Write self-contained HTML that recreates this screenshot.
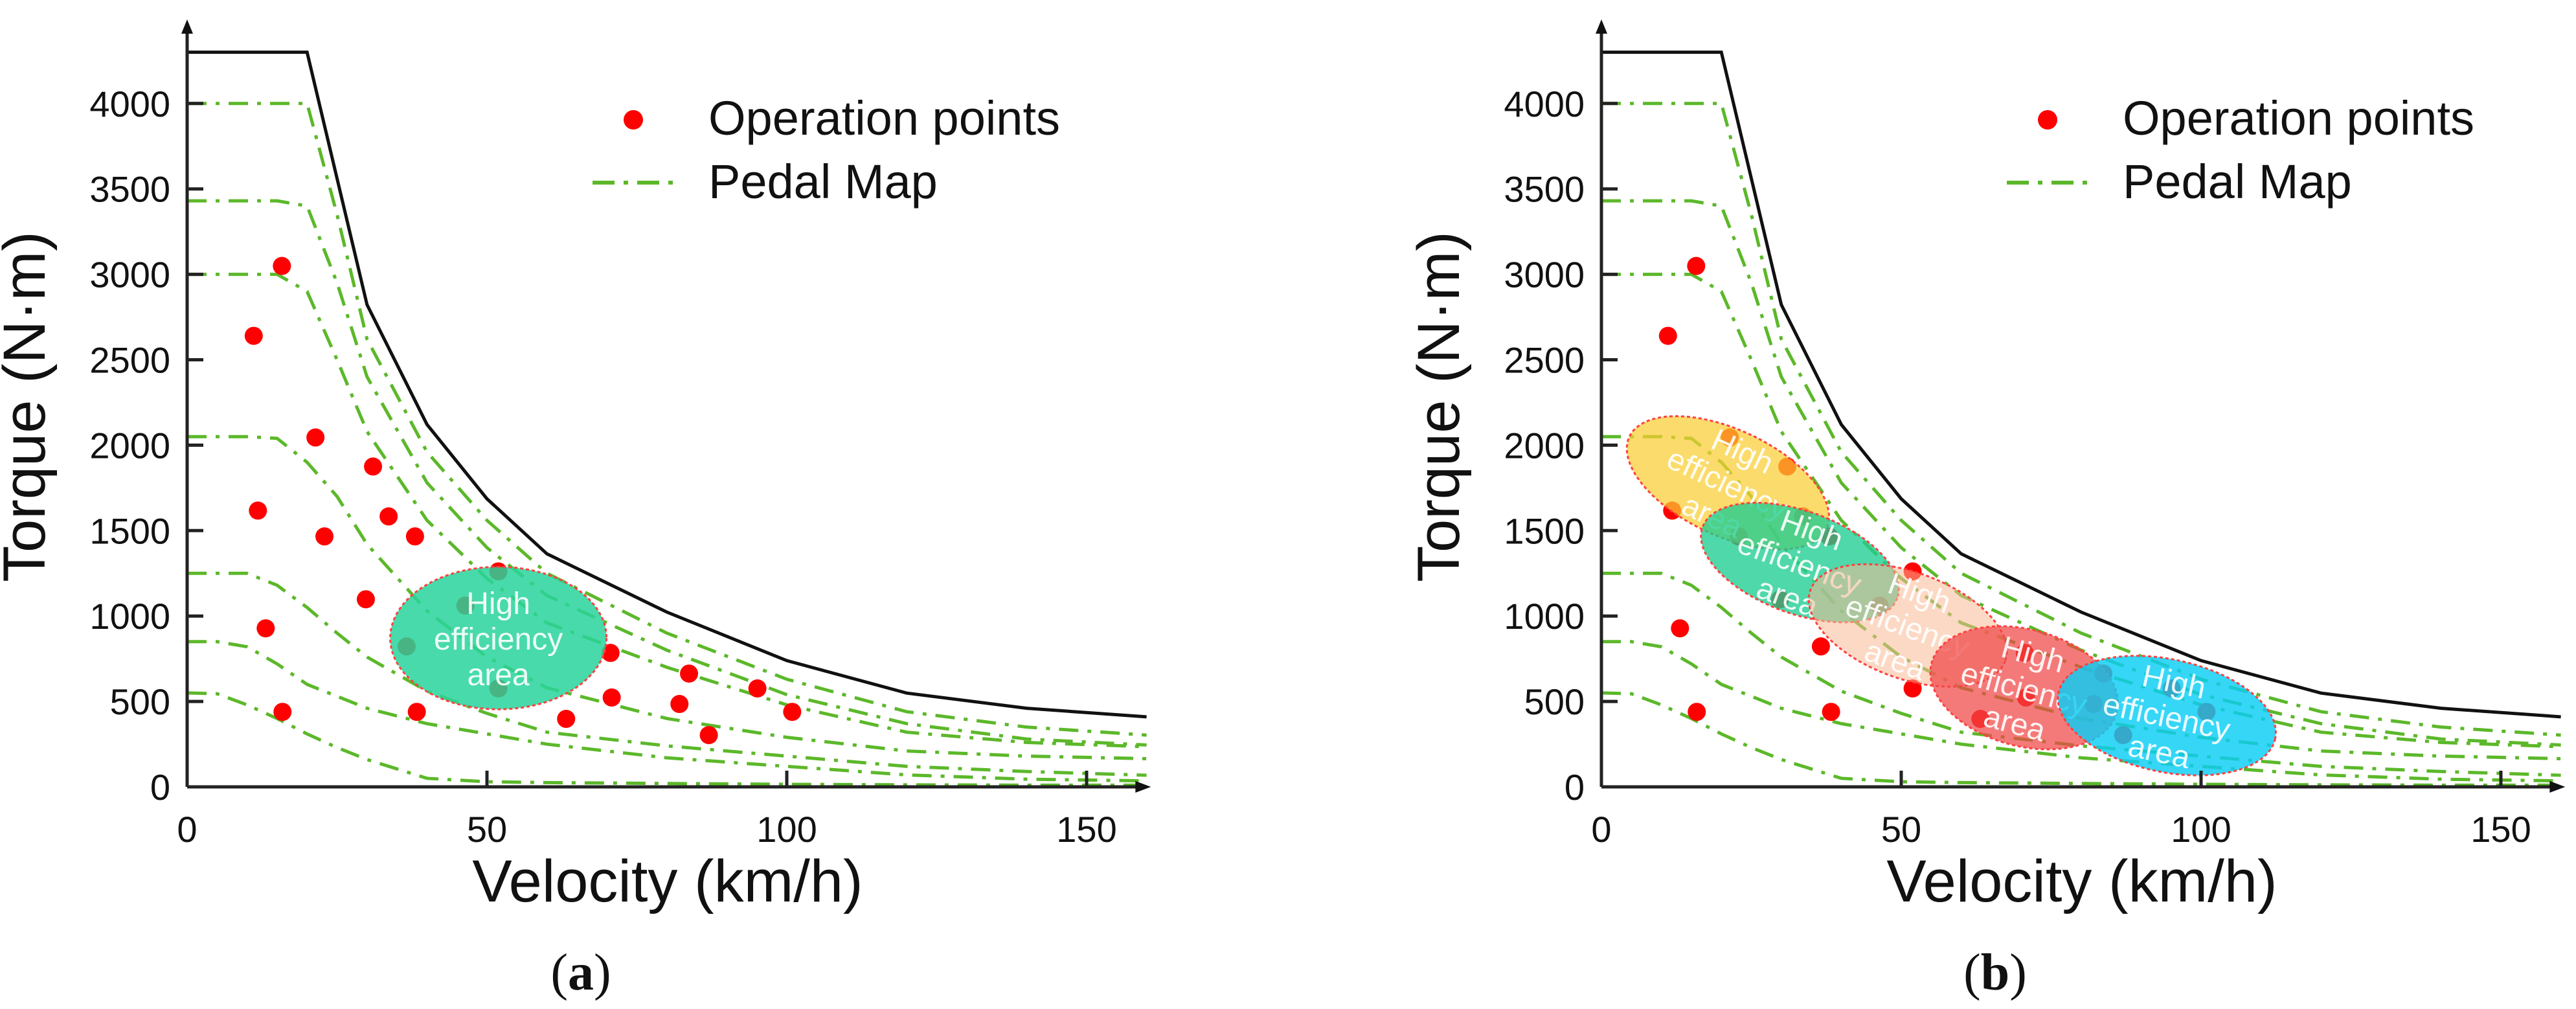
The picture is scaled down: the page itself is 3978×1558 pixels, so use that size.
<!DOCTYPE html>
<html><head><meta charset="utf-8"><style>
html,body{margin:0;padding:0;background:#fff;}
svg{display:block;font-family:"Liberation Sans",sans-serif;}
</style></head><body>
<svg id="chart" width="3978" height="1558" viewBox="0 0 3978 1558" xmlns="http://www.w3.org/2000/svg"></svg>
<script>
const velocityGrid=[0,5,10,15,20,25,30,40,50,60,80,100,120,140,160];
const pedal1=[4000,4000,4000,4000,4000,3350,2620,1960,1560,1250,900,630,440,350,303];
const pedal2=[3430,3430,3430,3430,3400,2950,2400,1780,1400,1120,800,540,370,280,245];
const pedal3=[3000,3000,3000,3000,2900,2500,2080,1560,1220,960,700,480,320,260,235];
const pedal4=[2050,2050,2050,2040,1900,1700,1420,1030,760,580,400,290,210,180,165];
const pedal5=[1250,1250,1250,1180,1050,900,760,560,430,320,240,180,120,90,68];
const pedal6=[850,850,820,720,600,530,460,370,310,250,170,120,70,45,35];
const pedal7=[550,545,480,400,310,230,160,50,30,25,20,15,12,10,10];
const pedalSeries=[pedal1,pedal2,pedal3,pedal4,pedal5,pedal6,pedal7];
const limitV=[0,20,30,40,50,60,80,100,120,140,160];
const limitT=[4300,4300,2822,2121,1686,1364,1023,739,549,460,410];
const pointV=[15.8,11.1,21.4,31,11.8,33.6,22.9,38,51.9,46.4,29.8,13.1,36.6,70.6,83.7,95.1,51.9,70.8,82.1,15.9,38.3,100.9,63.2,87];
const pointT=[3049,2640,2045,1875,1617,1583,1466,1466,1261,1061,1098,928,822,784,663,576,576,523,485,439,439,439,398,303];
const xTicks=[0,50,100,150];
const yTicks=[0,500,1000,1500,2000,2500,3000,3500,4000];
// ellipses: center v, center T, semi-axes (px), angle deg, color
const areaA={v:51.9,t:871,rx:167,ry:110,rot:0,fill:"rgba(40,212,155,0.85)"};
const areasB=[
 {v:21.1,t:1780,rx:168,ry:82,rot:25,fill:"rgba(250,205,50,0.72)"},
 {v:33.1,t:1313,rx:160,ry:79,rot:20,fill:"rgba(30,205,145,0.78)"},
 {v:51.1,t:945,rx:160,ry:82,rot:20,fill:"rgba(250,185,150,0.55)"},
 {v:70.5,t:580,rx:148,ry:90,rot:15,fill:"rgba(240,70,70,0.72)"},
 {v:94.3,t:417,rx:171,ry:87,rot:12,fill:"rgba(10,205,245,0.82)"}];

const NS="http://www.w3.org/2000/svg";
const svg=document.getElementById('chart');
function mk(tag,attrs,parent){const e=document.createElementNS(NS,tag);for(const k in attrs)e.setAttribute(k,attrs[k]);(parent||svg).appendChild(e);return e;}
const Y0=1215,KY=0.2638,KX=9.26;
function drawPanel(ox,label,areas){
  const g=mk('g',{});
  
  
  const X=v=>ox+v*KX, Y=t=>Y0-t*KY;
  // pedal curves
  pedalSeries.forEach((s,i)=>{
    const p=mk('polyline',{points:s.map((t,j)=>X(velocityGrid[j])+','+Y(t)).join(' '),fill:'none',stroke:'#5cb82a','stroke-width':5,'stroke-dasharray':'30 14 6 14'},g);
    
    
  });
  const lim=mk('polyline',{points:limitT.map((t,j)=>X(limitV[j])+','+Y(t)).join(' '),fill:'none',stroke:'#111','stroke-width':5},g);
  
  
  pointV.forEach((v,i)=>{
    const c=mk('circle',{cx:X(v),cy:Y(pointT[i]),r:14,fill:'#ff0000'},g);
    
    
  });
  areas.forEach((a,i)=>{
    const cx=X(a.v),cy=Y(a.t);
    const ag=mk('g',{transform:`rotate(${a.rot} ${cx} ${cy})`},g);
    
    
    mk('ellipse',{cx:cx,cy:cy,rx:a.rx,ry:a.ry,fill:a.fill,stroke:'#ff4040','stroke-width':3,'stroke-dasharray':'5 4'},ag);
    const lines=['High','efficiency','area'];
    lines.forEach((l,k)=>{const tx=mk('text',{x:cx,y:cy+(k-1)*55+18,'text-anchor':'middle','font-size':48,fill:'#fff','fill-opacity':0.9},ag);tx.textContent=l;});
  });
  // axes
  const ax=mk('g',{stroke:'#222','stroke-width':5,fill:'none'},g);
  
  
  mk('line',{x1:ox,y1:Y0,x2:ox,y2:45},ax);
  mk('line',{x1:ox,y1:Y0,x2:X(159),y2:Y0},ax);
  mk('polygon',{points:`${ox-9},52 ${ox+9},52 ${ox},30`,fill:'#111',stroke:'none'},g);
  mk('polygon',{points:`${X(159)-8},${Y0-9} ${X(159)-8},${Y0+9} ${X(159)+16},${Y0}`,fill:'#111',stroke:'none'},g);
  yTicks.forEach(t=>{
    mk('line',{x1:ox,y1:Y(t),x2:ox+25,y2:Y(t)},ax);
    const tl=mk('text',{x:ox-26,y:Y(t)+20,'text-anchor':'end','font-size':56,fill:'#111'},g);
    tl.textContent=t;
    
    
  });
  xTicks.forEach(v=>{
    if(v>0) mk('line',{x1:X(v),y1:Y0,x2:X(v),y2:Y0-25},ax);
    const tl=mk('text',{x:X(v),y:1300,'text-anchor':'middle','font-size':56,fill:'#111'},g);
    tl.textContent=v;
    
    
  });
  const xt=mk('text',{x:ox+742,y:1392,'text-anchor':'middle','font-size':92,fill:'#111'},g);
  xt.textContent='Velocity (km/h)';
  
  
  const yt=mk('text',{x:0,y:0,transform:`translate(${ox-220},628) rotate(-90)`,'text-anchor':'middle','font-size':92,fill:'#111'},g);
  yt.textContent='Torque (N\u00b7m)';
  
  
  // legend
  const lg=mk('g',{},g);
  
  
  mk('circle',{cx:ox+689,cy:185,r:15,fill:'#ff0000'},lg);
  const l1=mk('text',{x:ox+805,y:208,'font-size':74,fill:'#111'},lg);l1.textContent='Operation points';
  mk('line',{x1:ox+626,y1:282,x2:ox+751,y2:282,stroke:'#5cb82a','stroke-width':6,'stroke-dasharray':'34 14 7 14'},lg);
  const l2=mk('text',{x:ox+805,y:306,'font-size':74,fill:'#111'},lg);l2.textContent='Pedal  Map';
  const cap=mk('text',{x:ox+608,y:1528,'text-anchor':'middle','font-size':80,fill:'#111','font-family':'Liberation Serif, serif'},g);
  cap.innerHTML='(<tspan font-weight="bold">'+label+'</tspan>)';
  
  
}
drawPanel(289,'a',[areaA]);
drawPanel(2473,'b',areasB);
</script>
</body></html>
